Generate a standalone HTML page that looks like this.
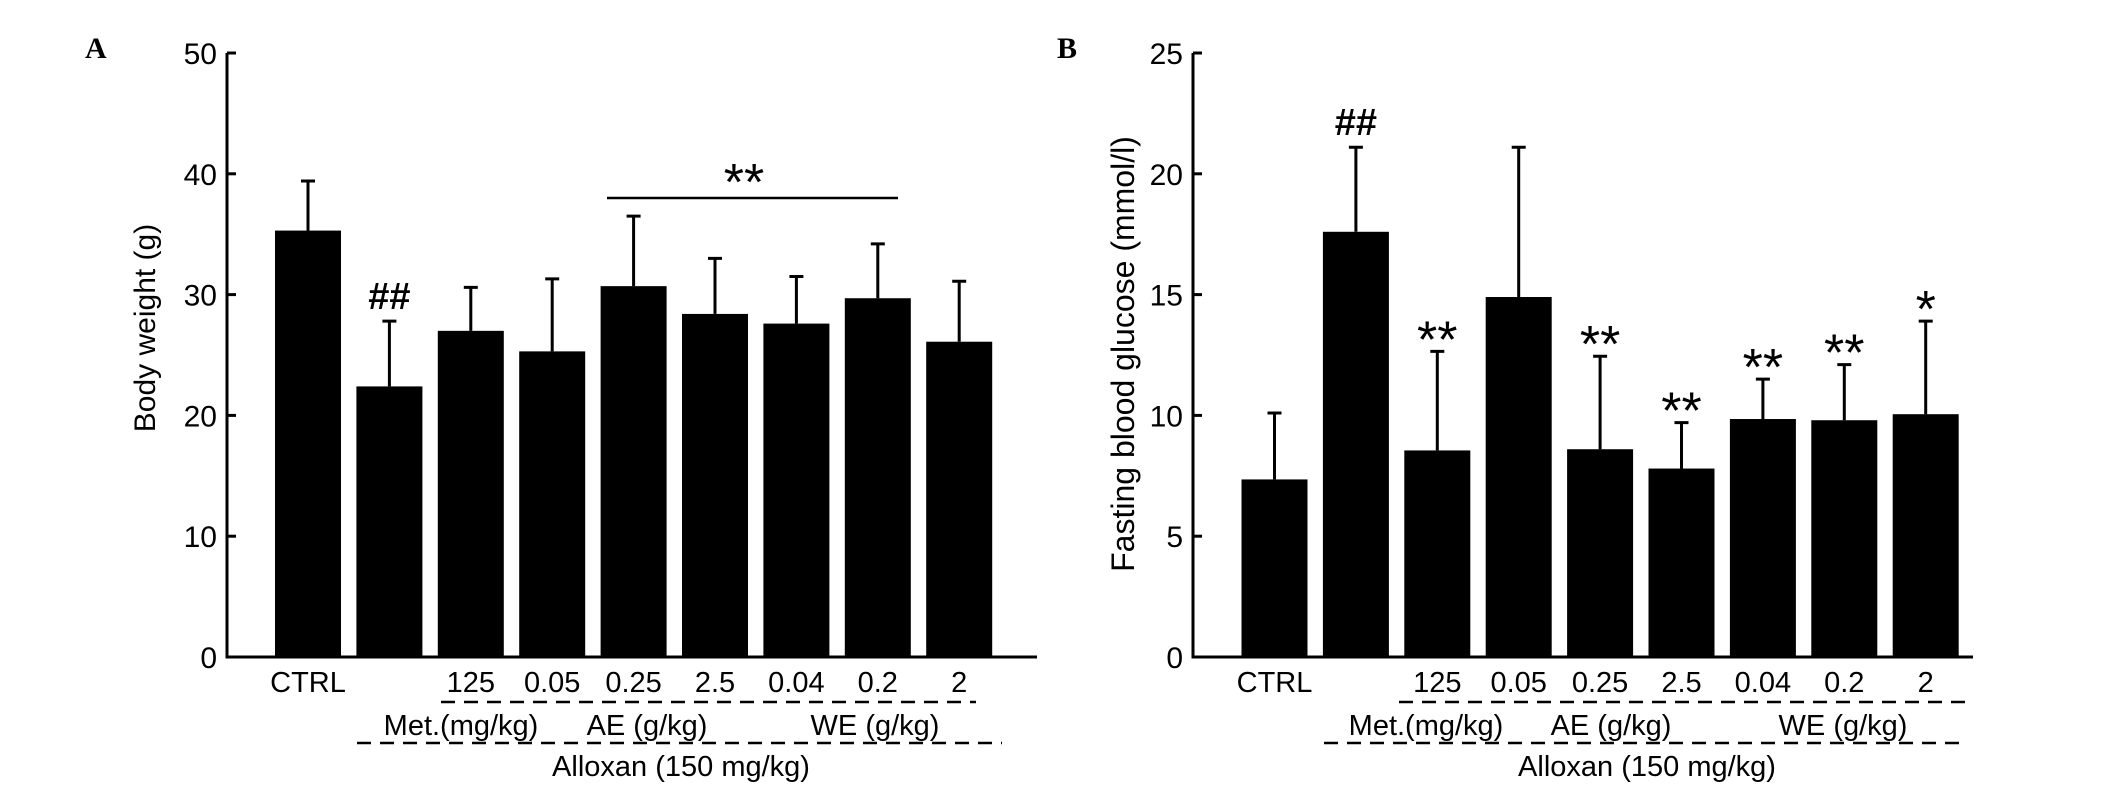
<!DOCTYPE html>
<html><head><meta charset="utf-8"><style>
html,body{margin:0;padding:0;background:#fff;}
svg{display:block;font-family:"Liberation Sans",Arial,sans-serif;}
</style></head><body>
<svg id="fig" width="2126" height="794" viewBox="0 0 2126 794" xmlns="http://www.w3.org/2000/svg">
<text x="85" y="58" font-family="Liberation Serif,serif" font-weight="bold" font-size="30">A</text>
<text x="1057" y="58" font-family="Liberation Serif,serif" font-weight="bold" font-size="30">B</text>
</svg>
<script>
const categories = ["CTRL","","125","0.05","0.25","2.5","0.04","0.2","2"];
const weightMeans = [35.3,22.4,27.0,25.3,30.7,28.4,27.6,29.7,26.1];
const weightErrs  = [4.1,5.4,3.6,6.0,5.8,4.6,3.9,4.5,5.0];
const weightTicks = [0,10,20,30,40,50];
const weightMarks = ["","##","","","","","","",""];
const glucoseMeans = [7.35,17.6,8.55,14.9,8.6,7.8,9.85,9.8,10.05];
const glucoseErrs  = [2.75,3.5,4.1,6.2,3.85,1.9,1.65,2.3,3.85];
const glucoseTicks = [0,5,10,15,20,25];
const glucoseMarks = ["","##","**","","**","**","**","**","*"];

const NS="http://www.w3.org/2000/svg";
const svg=document.getElementById('fig');
function mk(tag,attrs,parent){const e=document.createElementNS(NS,tag);for(const k in attrs)e.setAttribute(k,attrs[k]);(parent||svg).appendChild(e);return e;}

function panel(o){
  const g=mk('g',{});
  
  
  const y0=657,yTop=53,ymax=o.ticks[o.ticks.length-1];
  const y=v=>y0-(v/ymax)*(y0-yTop);
  const pitch=81.4,bw=66;
  const cx=i=>o.firstX+i*pitch;
  const ax=mk('path',{d:`M${o.ax},${yTop} V${y0} H${o.axEnd}`,stroke:'#000','stroke-width':3,fill:'none'},g);
  
  
  o.ticks.forEach(t=>{
    const tk=mk('line',{x1:o.ax,x2:o.ax+9,y1:y(t),y2:y(t),stroke:'#000','stroke-width':3},g);
    
    
    const tl=mk('text',{x:o.ax-10,y:y(t)+11,'text-anchor':'end','font-size':30},g);
    tl.textContent=t;
    
    
  });
  o.means.forEach((m,i)=>{
    const c=cx(i),top=y(m),et=y(m+o.errs[i]);
    const eb=mk('path',{d:`M${c},${top} V${et} M${c-7},${et} H${c+7}`,stroke:'#000','stroke-width':3,fill:'none'},g);
    
    
    const r=mk('rect',{x:c-bw/2,y:top,width:bw,height:y0-top,fill:'#000'},g);
    
    
    const lb=mk('text',{x:c,y:692,'text-anchor':'middle','font-size':29},g);
    lb.textContent=categories[i];
    
    
    if(o.marks[i]){
      const isHash=o.marks[i]==='##';
      const mt=mk('text',{x:c,y:isHash?et-12:et+6,'text-anchor':'middle','font-size':isHash?38:52,'font-weight':isHash?'bold':'normal'},g);
      mt.textContent=o.marks[i];
      
      
    }
  });
  const d1=mk('line',{x1:o.d1[0],x2:o.d1[1],y1:702,y2:702,stroke:'#000','stroke-width':2.5,'stroke-dasharray':'14,9'},g);
  
  
  const d2=mk('line',{x1:o.d2[0],x2:o.d2[1],y1:743,y2:743,stroke:'#000','stroke-width':2.5,'stroke-dasharray':'14,9'},g);
  
  
  [['Met.(mg/kg)',o.gx[0],735],['AE (g/kg)',o.gx[1],735],['WE (g/kg)',o.gx[2],735],['Alloxan (150 mg/kg)',o.gx[3],776]].forEach(a=>{
    const t=mk('text',{x:a[1],y:a[2],'text-anchor':'middle','font-size':29},g);
    t.textContent=a[0];
    
    
  });
  const yl=mk('text',{x:0,y:0,'text-anchor':'middle','font-size':o.ylfs,transform:`translate(${o.ylx},${o.yly}) rotate(-90)`},g);
  yl.textContent=o.ylabel;
  
  
  return {g,y,cx};
}

const A=panel({name:'panel-a-chart',ax:227,axEnd:1037,firstX:308,means:weightMeans,errs:weightErrs,ticks:weightTicks,marks:weightMarks,
  d1:[441,976],d2:[357,1002],gx:[461,647,875,681],ylabel:'Body weight (g)',ylx:155,yly:328,ylfs:30});
const sl=mk('line',{x1:607,x2:898,y1:A.y(38),y2:A.y(38),stroke:'#000','stroke-width':2.5},A.g);


const st=mk('text',{x:744,y:A.y(38)+2,'text-anchor':'middle','font-size':52},A.g);
st.textContent='**';



panel({name:'panel-b-chart',ax:1193,axEnd:1973,firstX:1274.5,means:glucoseMeans,errs:glucoseErrs,ticks:glucoseTicks,marks:glucoseMarks,
  d1:[1399,1968],d2:[1324,1968],gx:[1426,1611,1843,1647],ylabel:'Fasting blood glucose (mmol/l)',ylx:1134,yly:354,ylfs:32});
</script>
</body></html>
